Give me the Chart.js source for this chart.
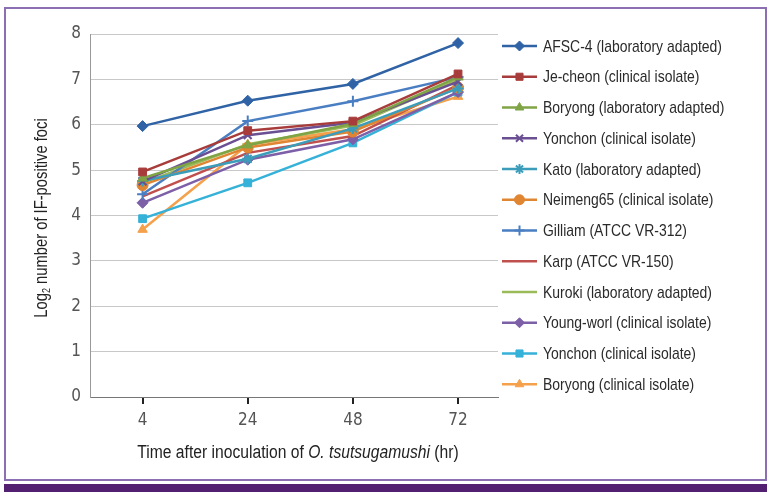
<!DOCTYPE html>
<html>
<head>
<meta charset="utf-8">
<script src="https://cdn.jsdelivr.net/npm/chart.js@4.4.0/dist/chart.umd.min.js"></script>
<style>
body { margin: 0; background: #fff; }
#frame { position: absolute; left: 4px; top: 7px; width: 759px; height: 470px; border: 2px solid #8c6fb3; }
#bar { position: absolute; left: 4px; top: 484px; width: 763px; height: 8px; background: #532071; }
#wrap { position: absolute; left: 0; top: 0; }
</style>
</head>
<body>
<div id="frame"></div>
<div id="bar"></div>
<div id="wrap"><canvas id="myChart" width="771" height="496"></canvas></div>
<script>
var timeLabels = ['4', '24', '48', '72'];

var afsc = [5.97, 6.53, 6.9, 7.8];
var jecheon = [4.96, 5.87, 6.08, 7.12];
var boryongLab = [4.82, 5.55, 6.02, 7.05];
var yonchonX = [4.75, 5.77, 6.05, 6.95];
var kato = [4.76, 5.25, 5.92, 6.8];
var neimeng = [4.67, 5.5, 5.85, 6.82];
var gilliam = [4.47, 6.08, 6.52, 7.05];
var karp = [4.42, 5.38, 5.75, 6.88];
var kuroki = [4.72, 5.57, 5.98, 7.0];
var youngworl = [4.28, 5.23, 5.68, 6.72];
var yonchonSq = [3.93, 4.72, 5.6, 6.72];
var boryongClin = [3.69, 5.56, 5.9, 6.62];

var FONT = "'DejaVu Sans Condensed', 'Liberation Sans', sans-serif";
var TEXTFONT = "'Liberation Sans', Arial, sans-serif";

function series(label, values, color, style) {
    return {
        label: label,
        data: values.map(function(v, i) { return { x: i, y: v }; }),
        borderColor: color,
        backgroundColor: color,
        borderWidth: 2.5,
        pointStyle: style,
        pointRadius: style ? 5.5 : 0,
        pointBorderWidth: (style === 'crossRot' || style === 'cross' || style === 'star' || style === 'line') ? 2 : 1,
        tension: 0
    };
}

var datasets = [
    series('AFSC-4 (laboratory adapted)', afsc, '#2f63a5', 'rectRot'),
    series('Je-cheon (clinical isolate)', jecheon, '#a83c3a', 'rect'),
    series('Boryong (laboratory adapted)', boryongLab, '#7fa446', 'triangle'),
    series('Yonchon (clinical isolate)', yonchonX, '#6a4f93', 'crossRot'),
    series('Kato (laboratory adapted)', kato, '#3b9dba', 'star'),
    series('Neimeng65 (clinical isolate)', neimeng, '#e08531', 'circle'),
    series('Gilliam (ATCC VR-312)', gilliam, '#4a7ec2', 'cross'),
    series('Karp (ATCC VR-150)', karp, '#c0504d', false),
    series('Kuroki (laboratory adapted)', kuroki, '#9bbb59', 'line'),
    series('Young-worl (clinical isolate)', youngworl, '#7d5fa8', 'rectRot'),
    series('Yonchon (clinical isolate)', yonchonSq, '#36b1d8', 'rect'),
    series('Boryong (clinical isolate)', boryongClin, '#f5a04a', 'triangle')
];

// narrow text: squeeze horizontally
function narrow(c, text, x, y, font, sx) {
    c.save();
    c.font = font;
    c.translate(x, y);
    c.scale(sx, 1);
    c.fillText(text, 0, 0);
    c.restore();
}
function narrowWidth(c, text, font, sx) {
    c.save();
    c.font = font;
    var w = c.measureText(text).width * sx;
    c.restore();
    return w;
}

// legend with line + marker, and axis titles (subscript / italic parts)
var extras = {
    id: 'extras',
    afterDraw: function(chart) {
        var c = chart.ctx;
        c.save();
        c.textBaseline = 'middle';
        c.textAlign = 'left';
        chart.data.datasets.forEach(function(ds, i) {
            var y = 46 + i * 30.75;
            c.strokeStyle = ds.borderColor;
            c.lineWidth = 2.5;
            c.beginPath();
            c.moveTo(502, y);
            c.lineTo(537, y);
            c.stroke();
            if (ds.pointStyle) {
                c.fillStyle = ds.backgroundColor;
                c.strokeStyle = ds.borderColor;
                c.lineWidth = ds.pointBorderWidth;
                Chart.helpers.drawPoint(c, { pointStyle: ds.pointStyle, radius: 5, borderWidth: ds.pointBorderWidth }, 519.5, y);
            }
            c.fillStyle = '#2a2a2a';
            narrow(c, ds.label, 543, y + 1, '17px ' + TEXTFONT, 0.82);
        });

        // x title
        c.fillStyle = '#222';
        var sx = 0.87;
        var a = 'Time after inoculation of ', b = 'O. tsutsugamushi', d = ' (hr)';
        var fN = '18px ' + TEXTFONT, fI = 'italic 18px ' + TEXTFONT;
        var wa = narrowWidth(c, a, fN, sx), wb = narrowWidth(c, b, fI, sx), wd = narrowWidth(c, d, fN, sx);
        var x0 = 298 - (wa + wb + wd) / 2;
        narrow(c, a, x0, 453, fN, sx);
        narrow(c, b, x0 + wa, 453, fI, sx);
        narrow(c, d, x0 + wa + wb, 453, fN, sx);

        // y title
        c.translate(42, 218);
        c.rotate(-Math.PI / 2);
        var p1 = 'Log', p2 = '2', p3 = ' number of IF-positive foci';
        var f1 = '18px ' + TEXTFONT, f2 = '11px ' + TEXTFONT;
        var w1 = narrowWidth(c, p1, f1, 0.82), w2 = narrowWidth(c, p2, f2, 0.82), w3 = narrowWidth(c, p3, f1, 0.82);
        var s = -(w1 + w2 + w3) / 2;
        narrow(c, p1, s, 0, f1, 0.82);
        narrow(c, p2, s + w1, 5, f2, 0.82);
        narrow(c, p3, s + w1 + w2, 0, f1, 0.82);
        c.restore();
    }
};

var ctx = document.getElementById('myChart').getContext('2d');
var myChart = new Chart(ctx, {
    type: 'line',
    data: { datasets: datasets },
    plugins: [extras],
    options: {
        responsive: false,
        animation: false,
        layout: { padding: { left: 0, right: 273, top: 34, bottom: 0 } },
        plugins: { legend: { display: false }, tooltip: { enabled: false } },
        scales: {
            x: {
                type: 'linear',
                min: -0.5,
                max: 3.38,
                afterBuildTicks: function(scale) {
                    scale.ticks = timeLabels.map(function(_, i) { return { value: i }; });
                },
                afterFit: function(scale) { scale.height = 99; },
                ticks: {
                    callback: function(v) { return timeLabels[v]; },
                    color: '#555',
                    font: { family: FONT, size: 17 },
                    padding: 6,
                    maxRotation: 0
                },
                grid: { drawOnChartArea: false, drawTicks: true, tickLength: 7, color: '#222', lineWidth: 2 },
                border: { color: '#777', width: 1 }
            },
            y: {
                min: 0,
                max: 8,
                afterFit: function(scale) { scale.width = 90; },
                ticks: {
                    stepSize: 1,
                    color: '#555',
                    font: { family: FONT, size: 17 },
                    padding: 9
                },
                grid: { color: '#c8c8c8', drawTicks: false },
                border: { color: '#999', width: 1 }
            }
        }
    }
});
</script>
</body>
</html>
